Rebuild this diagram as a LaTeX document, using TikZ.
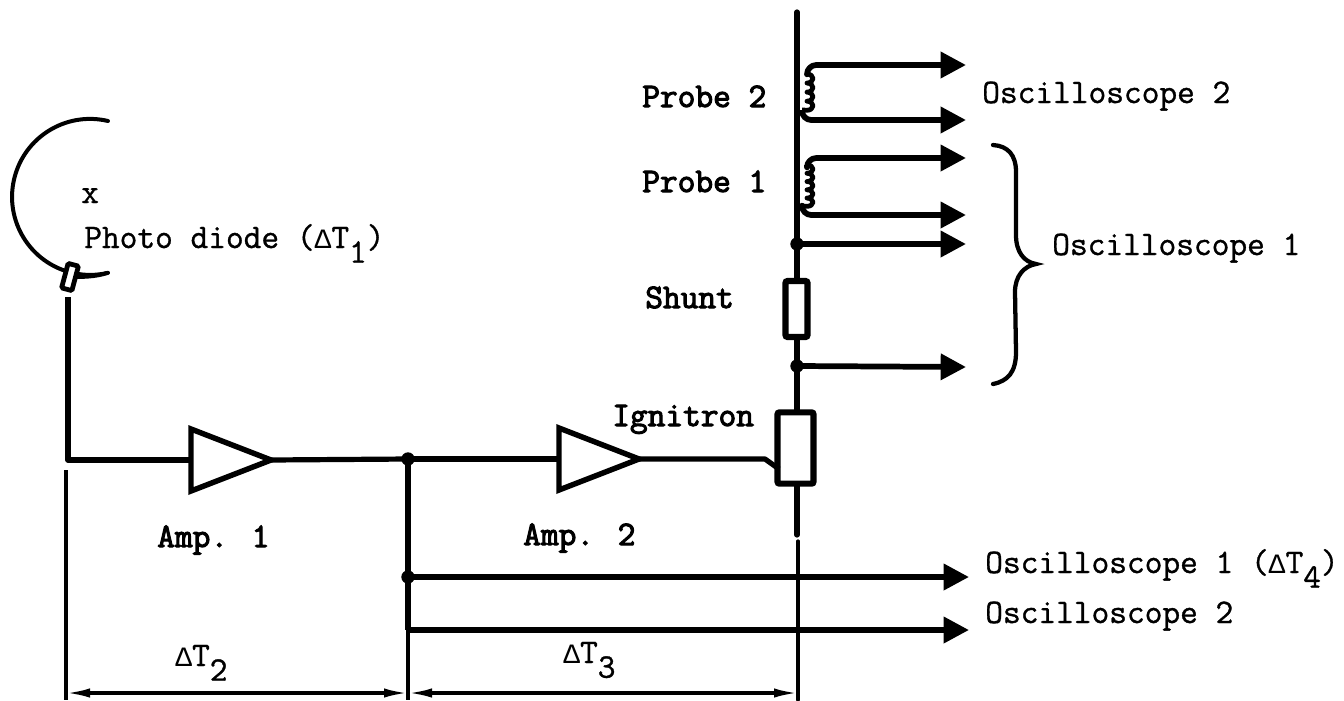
\documentclass[tikz,border=0pt]{standalone}
\usepackage{fontspec}
\setmainfont{Latin Modern Mono}[FakeBold=1]
\newfontfamily\bfam{Latin Modern Mono}[FakeBold=3]
\newfontfamily\dfam{Liberation Mono}
\usetikzlibrary{arrows.meta}
\newcommand{\sbs}[1]{\raisebox{-11pt}{#1}}
\newcommand{\dlt}{{\dfam\fontsize{21pt}{22pt}\selectfont Δ}}
\tikzset{
 x=0.75pt,y=-0.75pt,
 thick line/.style={line width=3.9pt},
 thin line/.style={line width=2.4pt},
 coilline/.style={line width=3.6pt,line join=round},
 sig/.style={line width=4.3pt,-{Triangle[length=19pt,width=19pt]},line join=round},
 lab/.style={inner sep=0pt,anchor=base west,font=\fontsize{25.8pt}{27pt}\selectfont},
 blab/.style={lab,font=\fontsize{25.8pt}{27pt}\bfam},
 dot/.style={circle,fill=black,inner sep=0pt,minimum size=10pt},
 comp/.style={draw,line width=4.6pt,rounded corners=1.5pt,fill=white,inner sep=0pt},
 amp/.style={draw,line width=4.1pt,line join=miter,fill=white},
 dim/.style={line width=2.4pt,{Latex[length=18pt,width=7pt]}-{Latex[length=18pt,width=7pt]}},
}
\begin{document}
\begin{tikzpicture}
\useasboundingbox (0,0) rectangle (1344,700);
% named points
\coordinate (top) at (797,12);
\coordinate (j1) at (797,244);
\coordinate (j2) at (797,366);
\coordinate (bot) at (797,535);
\coordinate (lowtop) at (798,541);
\coordinate (lowbot) at (798,700);
\coordinate (p2a) at (807,74);
\coordinate (p2b) at (802,110);
\coordinate (p1a) at (807,165);
\coordinate (p1b) at (802,206);
\coordinate (o1) at (966,65);
\coordinate (o2) at (966,120);
\coordinate (o3) at (966,158);
\coordinate (o4) at (966,215);
\coordinate (o5) at (966,244);
\coordinate (o6) at (966,367);
\coordinate (o7) at (969,577);
\coordinate (o8) at (969,630);
\coordinate (pd) at (68,297);
\coordinate (corner) at (68,460);
\coordinate (t) at (408,459);
\coordinate (b1) at (408,577);
\coordinate (b2) at (408,630);
\coordinate (tb) at (408,700);
\coordinate (ll) at (66,470);
\coordinate (llb) at (66,700);
\coordinate (dl) at (66,693);
\coordinate (dm) at (408,693);
\coordinate (dr) at (798,693);
\coordinate (bend) at (765,459);
\coordinate (igin) at (779,469);
\coordinate (a1l) at (191,460);
\coordinate (a1t) at (191,429);
\coordinate (a1b) at (191,491);
\coordinate (a1a) at (271,460);
\coordinate (a2l) at (559,459);
\coordinate (a2t) at (559,428);
\coordinate (a2b) at (559,490);
\coordinate (a2a) at (639,459);
% bus
\draw[thick line,line cap=round] (top) -- (bot);
\draw[thin line,line cap=round] (lowtop) -- (lowbot);
% components
\node[comp,minimum width=16.5pt,minimum height=42pt] (shunt) at (796.5,309) {};
\node[comp,minimum width=27pt,minimum height=53.5pt] (ign) at (795.5,448) {};
% probes
\draw[sig,rounded corners=7pt] (p2a) |- (o1);
\draw[sig,rounded corners=7pt] (p2b) |- (o2);
\draw[sig,rounded corners=7pt] (p1a) |- (o3);
\draw[sig,rounded corners=7pt] (p1b) |- (o4);
\draw[coilline] (p2a) arc[start angle=90,end angle=-90,x radius=4.5pt,y radius=3.4pt]
  arc[start angle=90,end angle=-90,x radius=4.5pt,y radius=3.4pt]
  arc[start angle=90,end angle=-90,x radius=4.5pt,y radius=3.4pt]
  arc[start angle=90,end angle=-90,x radius=4.5pt,y radius=3.4pt] -- (p2b);
\draw[coilline] (p1a) arc[start angle=90,end angle=-90,x radius=4.5pt,y radius=3.1pt]
  arc[start angle=90,end angle=-90,x radius=4.5pt,y radius=3.1pt]
  arc[start angle=90,end angle=-90,x radius=4.5pt,y radius=3.1pt]
  arc[start angle=90,end angle=-90,x radius=4.5pt,y radius=3.1pt]
  arc[start angle=90,end angle=-90,x radius=4.5pt,y radius=3.1pt] -- (p1b);
\draw[sig] (j1) -- (o5);
\draw[sig] (j2) -- (o6);
\node[dot] at (j1) {};
\node[dot] at (j2) {};
% brace
\draw[line width=3.2pt,line cap=round] (993,145) .. controls (1008,146) and (1016,155) .. (1016,172)
  -- (1016,235) .. controls (1016,252) and (1024,262) .. (1036,264)
  .. controls (1024,266) and (1015,276) .. (1015,292)
  -- (1016,352) .. controls (1016,372) and (1008,381) .. (993,384);
% photo diode
\draw[line width=3pt,line cap=round] (108,121) arc[start angle=76.7,end angle=283.3,radius=58.5pt];
\draw[line width=3pt,line cap=round] (70,277) .. controls (82,277) and (95,277) .. (107,273);
\node[draw,fill=white,line width=3.6pt,rounded corners=1pt,minimum width=8pt,minimum height=19pt,inner sep=0pt,rotate=-15] (diode) at (70,277) {};
\draw[thick line] (pd) -- (corner);
% amps and signal path
\draw[amp] (a1t) -- (a1a) -- (a1b) -- cycle;
\draw[amp] (a2t) -- (a2a) -- (a2b) -- cycle;
\draw[thick line,line join=round] (pd) -- (corner) -- (a1l);
\draw[thick line] (a1a) -- (t);
\draw[thick line] (t) -- (a2l);
\draw[thick line,line join=round] (a2a) -- (bend) -- (igin);
\draw[thick line] (t) -- (b2);
\draw[sig] (b1) -- (o7);
\draw[sig] (b2) -- (o8);
\node[dot] at (t) {};
\node[dot] at (b1) {};
\draw[thin line] (b2) -- (tb);
\draw[thin line] (ll) -- (llb);
\draw[dim] (dl) -- (dm);
\draw[dim] (dm) -- (dr);
% labels
\node[lab] (mark) at (81,203) {x};
\node[lab] (l1) at (84,248) {Photo diode (\dlt T\sbs{1})};
\node[blab] (l2) at (642,107) {Probe 2};
\node[blab] (l3) at (642,192) {Probe 1};
\node[blab] (l4) at (645,308) {Shunt};
\node[blab] (l5) at (612,426) {Ignitron};
\node[lab] (l6) at (982,103) {Oscilloscope 2};
\node[lab] (l7) at (1052,255) {Oscilloscope 1};
\node[lab] (l8) at (985,573) {Oscilloscope 1 (\dlt T\sbs{4})};
\node[lab] (l9) at (985,623) {Oscilloscope 2};
\node[blab] (l10) at (157,547) {Amp. 1};
\node[blab] (l11) at (523,545) {Amp. 2};
\node[lab] (l12) at (175,666) {\dlt T\sbs{2}};
\node[lab] (l13) at (563,663) {\dlt T\sbs{3}};
\end{tikzpicture}
\end{document}
